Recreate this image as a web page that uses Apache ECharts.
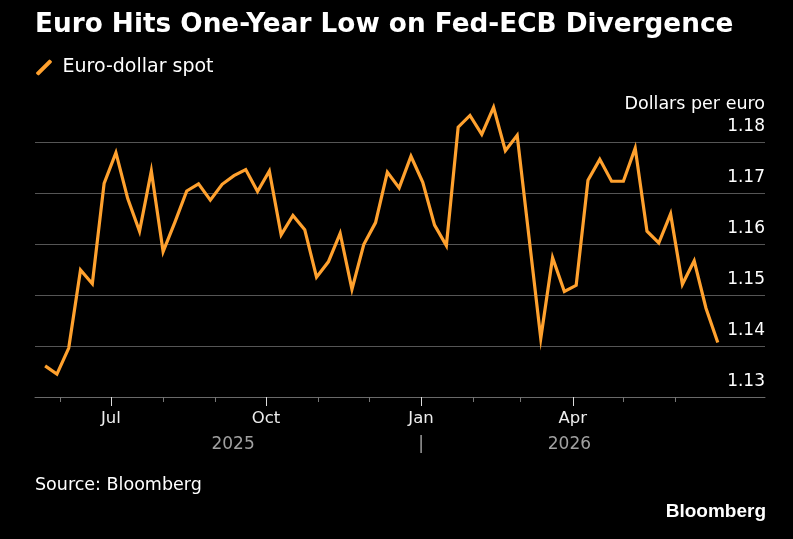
<!DOCTYPE html>
<html>
<head>
<meta charset="utf-8">
<script src="https://cdn.jsdelivr.net/npm/echarts@6/dist/echarts.min.js"></script>
<style>
html,body{margin:0;padding:0;background:#000;}
#chart{width:793px;height:539px;}
</style>
</head>
<body>
<div id="chart"></div>
<script>
const titleText = 'Euro Hits One-Year Low on Fed-ECB Divergence';
const seriesName = 'Euro-dollar spot';
const unitLabel = 'Dollars per euro';
const sourceText = 'Source: Bloomberg';
const brandText = 'Bloomberg';

const dates = [
  '2025-05-23','2025-05-30','2025-06-06','2025-06-13','2025-06-20','2025-06-27',
  '2025-07-04','2025-07-11','2025-07-18','2025-07-25','2025-08-01','2025-08-08',
  '2025-08-15','2025-08-22','2025-08-29','2025-09-05','2025-09-12','2025-09-19',
  '2025-09-26','2025-10-03','2025-10-10','2025-10-17','2025-10-24','2025-10-31',
  '2025-11-07','2025-11-14','2025-11-21','2025-11-28','2025-12-05','2025-12-12',
  '2025-12-19','2025-12-26','2026-01-02','2026-01-09','2026-01-16','2026-01-23',
  '2026-01-30','2026-02-06','2026-02-13','2026-02-20','2026-02-27','2026-03-06',
  '2026-03-13','2026-03-20','2026-03-27','2026-04-03','2026-04-10','2026-04-17',
  '2026-04-24','2026-05-01','2026-05-08','2026-05-15','2026-05-22','2026-05-29',
  '2026-06-05','2026-06-12','2026-06-19','2026-06-26'
];
const eurUsd = [
  1.1361,1.1345,1.1396,1.1549,1.1522,1.1719,
  1.1779,1.1689,1.1625,1.1743,1.1585,1.1643,
  1.1704,1.1718,1.1686,1.1717,1.1734,1.1746,
  1.1703,1.1743,1.1618,1.1656,1.1628,1.1535,
  1.1565,1.1621,1.1511,1.1599,1.1642,1.1741,
  1.1710,1.1772,1.1721,1.1637,1.1597,1.1829,
  1.1852,1.1815,1.1868,1.1783,1.1813,1.1614,
  1.1415,1.1573,1.1507,1.1519,1.1725,1.1766,
  1.1723,1.1723,1.1788,1.1625,1.1602,1.1659,
  1.1521,1.1567,1.1474,1.1407
];
const xMin = '2025-05-17';
const xMax = '2026-07-24';
const monthTicks = [
  '2025-06-01','2025-07-01','2025-08-01','2025-09-01','2025-10-01','2025-11-01',
  '2025-12-01','2026-01-01','2026-02-01','2026-03-01','2026-04-01','2026-05-01','2026-06-01'
];
const majorTicks = ['2025-07-01','2025-10-01','2026-01-01','2026-04-01'];
const majorLabels = ['Jul','Oct','Jan','Apr'];
const yearBoundary = '2026-01-01';
const yearLabels = ['2025','2026'];
const yMin = 1.13, yMax = 1.18, yStep = 0.01;

const t = s => new Date(s + 'T00:00:00Z').getTime();
const firstT = t(dates[0]), lastT = t(dates[dates.length-1]), boundT = t(yearBoundary);
const yearPos = [ (firstT + boundT)/2, boundT, (boundT + lastT)/2 ];
const yearText = [yearLabels[0], '|', yearLabels[1]];

const FONT = 'DejaVu Sans';
const ORANGE = '#FFA12E';
const chart = echarts.init(document.getElementById('chart'), null, {renderer:'canvas'});

const baseX = {
  type: 'value', min: t(xMin), max: t(xMax), position: 'bottom',
  splitLine: {show:false}, scale: true
};
const labelFor = (vals, texts) => v => {
  let best = 0, bd = Infinity;
  vals.forEach((x, i) => { const d = Math.abs(x - v); if (d < bd) { bd = d; best = i; } });
  return texts[best];
};

chart.setOption({
  backgroundColor: '#000',
  animation: false,
  title: {
    text: titleText, left: 30, top: 7,
    textStyle: {color:'#fff', fontFamily: FONT, fontWeight:'bold', fontSize: 26.3}
  },
  legend: {
    left: 31, top: 53, itemWidth: 17, itemHeight: 16,
    icon: 'path://M0,13.2 L12.2,1 Q13,0.2 13.8,1 L15,2.2 Q15.8,3 15,3.8 L2.8,16 Q2,16.8 1.2,16 L0,14.8 Q-0.8,14 0,13.2 Z',
    data: [seriesName],
    textStyle: {color:'#fff', fontFamily: FONT, fontSize: 19, padding:[0,0,0,5]}
  },
  grid: {left: 35, right: 28, top: 142, bottom: 142, containLabel: false},
  xAxis: [
    Object.assign({}, baseX, {
      axisLine: {show:true, lineStyle:{color:'#6a6a6a', width:1}},
      axisTick: {show:true, length:5, lineStyle:{color:'#777'}, customValues: monthTicks.map(t)},
      axisLabel: {show:false}
    }),
    Object.assign({}, baseX, {
      axisLine: {show:false},
      axisTick: {show:true, length:9, lineStyle:{color:'#ddd'}, customValues: majorTicks.map(t)},
      axisLabel: {show:true, customValues: majorTicks.map(t), margin: 13,
        color:'#eee', fontFamily: FONT, fontSize: 16.5,
        formatter: labelFor(majorTicks.map(t), majorLabels)}
    }),
    Object.assign({}, baseX, {
      axisLine: {show:false},
      axisTick: {show:false},
      axisLabel: {show:true, customValues: yearPos, margin: 39,
        color:'#a0a0a0', fontFamily: FONT, fontSize: 17,
        formatter: labelFor(yearPos, yearText)}
    })
  ],
  yAxis: {
    type: 'value', position: 'right', min: yMin, max: yMax, interval: yStep,
    name: unitLabel, nameLocation: 'end', nameGap: 38,
    nameTextStyle: {color:'#fff', fontFamily: FONT, fontSize: 17.5, align:'right', verticalAlign:'middle'},
    axisLine: {show:false}, axisTick: {show:false},
    splitLine: {show:true, lineStyle:{color:'#555', width:1}},
    axisLabel: {inside: true, margin: 0, color:'#fff', fontFamily: FONT, fontSize: 17,
      verticalAlign: 'bottom', padding:[0,0,7,0],
      formatter: v => v.toFixed(2)}
  },
  graphic: [
    {type:'text', left: 35, top: 476, style:{text: sourceText, fill:'#fff', font: '17.5px "DejaVu Sans"'}},
    {type:'text', right: 27, top: 502, style:{text: brandText, fill:'#fff', font: 'bold 19px "Liberation Sans"'}}
  ],
  series: [{
    name: seriesName, type: 'line', xAxisIndex: 0,
    data: dates.map((d, i) => [t(d), eurUsd[i]]),
    showSymbol: false, symbol: 'none', clip: false,
    color: ORANGE,
    lineStyle: {color: ORANGE, width: 3.2, join: 'miter'}
  }]
});
</script>
</body>
</html>
